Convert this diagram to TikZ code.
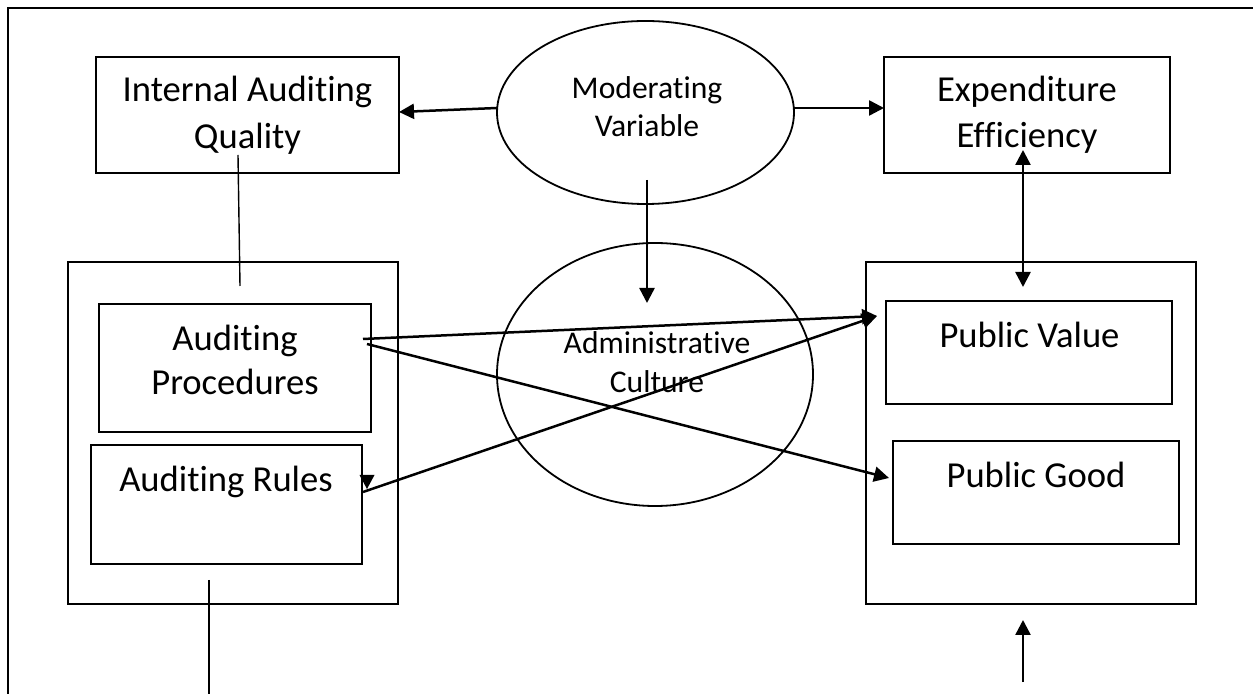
\documentclass[tikz,border=0pt]{standalone}
\usepackage{fontspec}
\setmainfont{Carlito}[Ligatures={NoCommon,NoContextual}]
\usetikzlibrary{shapes.geometric,arrows.meta}
% break a ligature between two letters
\newcommand{\nolig}{\kern0pt }

\begin{document}
\begin{tikzpicture}[x=0.5pt,y=-0.5pt,
  box/.style={draw,rectangle,line width=1.05pt,inner sep=0pt},
  frame/.style={draw,rectangle,line width=0.9pt,inner sep=0pt},
  oval/.style={draw,ellipse,line width=0.9pt,inner sep=0pt},
  big/.style={font=\fontsize{18.3}{22}\selectfont,inner sep=0pt,anchor=base},
  small/.style={font=\fontsize{15.8}{19}\selectfont,inner sep=0pt,anchor=base},
  tip/.tip={Triangle[length=7.5pt,width=7.5pt]},
  arr/.style={line width=1.25pt,-tip},
  darr/.style={line width=1.25pt,tip-tip},
  thin/.style={line width=0.7pt}]

\fill[white] (0,0) rectangle (1253,694);
\useasboundingbox (0,0) rectangle (1253,694);

% surrounding frame (runs past the page on the right and at the bottom)
\draw[line width=0.9pt] (8,694) -- (8,8) -- (1253,8);

% top row
\node[box,minimum width=151.5pt,minimum height=58pt] (iaq) at (247.5,115) {};
\node[big] (iaq1) at (247.5,102) {Internal Audit\nolig ing};
\node[big] (iaq2) at (247.5,149) {Quality};

\node[oval,minimum width=148.5pt,minimum height=91.5pt] (mod) at (645.5,112.5) {};
\node[small] (mod1) at (647,99) {Moderat\nolig ing};
\node[small] (mod2) at (647,137) {Variable};

\node[box,minimum width=143pt,minimum height=58pt] (ee) at (1027,115) {};
\node[big] (ee1) at (1027,102) {Expenditure};
\node[big] (ee2) at (1027,148) {Ef\nolig f\nolig iciency};

% left group
\node[frame,minimum width=165pt,minimum height=171pt] (lgrp) at (233,433) {};
\node[box,minimum width=136pt,minimum height=64pt] (ap) at (235,368) {};
\node[big] (ap1) at (235,351) {Audit\nolig ing};
\node[big] (ap2) at (235,395) {Procedures};
\node[box,minimum width=135.5pt,minimum height=59.5pt] (ar) at (226.5,504.5) {};
\node[big] (ar1) at (226,492) {Audit\nolig ing Rules};

% centre
\node[oval,minimum width=158pt,minimum height=131.5pt] (adm) at (655,374.5) {};
\node[small] (adm1) at (657,354) {Administrat\nolig ive};
\node[small] (adm2) at (657,393) {Culture};

% right group
\node[frame,minimum width=165pt,minimum height=171pt] (rgrp) at (1031,433) {};
\node[box,minimum width=143pt,minimum height=51.5pt] (pv) at (1029,352.5) {};
\node[big] (pv1) at (1029.5,348) {Public Value};
\node[box,minimum width=143pt,minimum height=51.5pt] (pg) at (1036,492.5) {};
\node[big] (pg1) at (1036,488) {Public Good};

% connector end points
\coordinate (modL) at (497,108);
\coordinate (iaqR) at (399,112);
\coordinate (modR) at (794,108);
\coordinate (eeL) at (884,108);
\coordinate (modS) at (647,180);
\coordinate (admN) at (647,303);
\coordinate (iaqS) at (238,155);
\coordinate (lgrpN) at (240,286);
\coordinate (eeS) at (1023,150);
\coordinate (rgrpN) at (1023,287);
\coordinate (apA) at (363,339);
\coordinate (apB) at (367,344);
\coordinate (arE) at (363,492);
\coordinate (pvW) at (877,316);
\coordinate (pgW) at (889,478);
\coordinate (lgrpS) at (209,580);
\coordinate (lowL) at (209,694);
\coordinate (lowR) at (1023,682);
\coordinate (rgrpS) at (1023,620);

% connectors
\draw[arr] (modL) -- (iaqR);
\draw[arr] (modR) -- (eeL);
\draw[arr] (modS) -- (admN);
\draw[thin] (iaqS) -- (lgrpN);
\draw[darr] (eeS) -- (rgrpN);
\draw[arr] (apA) -- (pvW);
\draw[arr] (apB) -- (pgW);
\draw[arr] (arE) -- (pvW);
\fill (359.5,475) -- (374.5,475) -- (367,489) -- cycle;
\draw[thin] (lgrpS) -- (lowL);
\draw[arr] (lowR) -- (rgrpS);
\end{tikzpicture}
\end{document}
